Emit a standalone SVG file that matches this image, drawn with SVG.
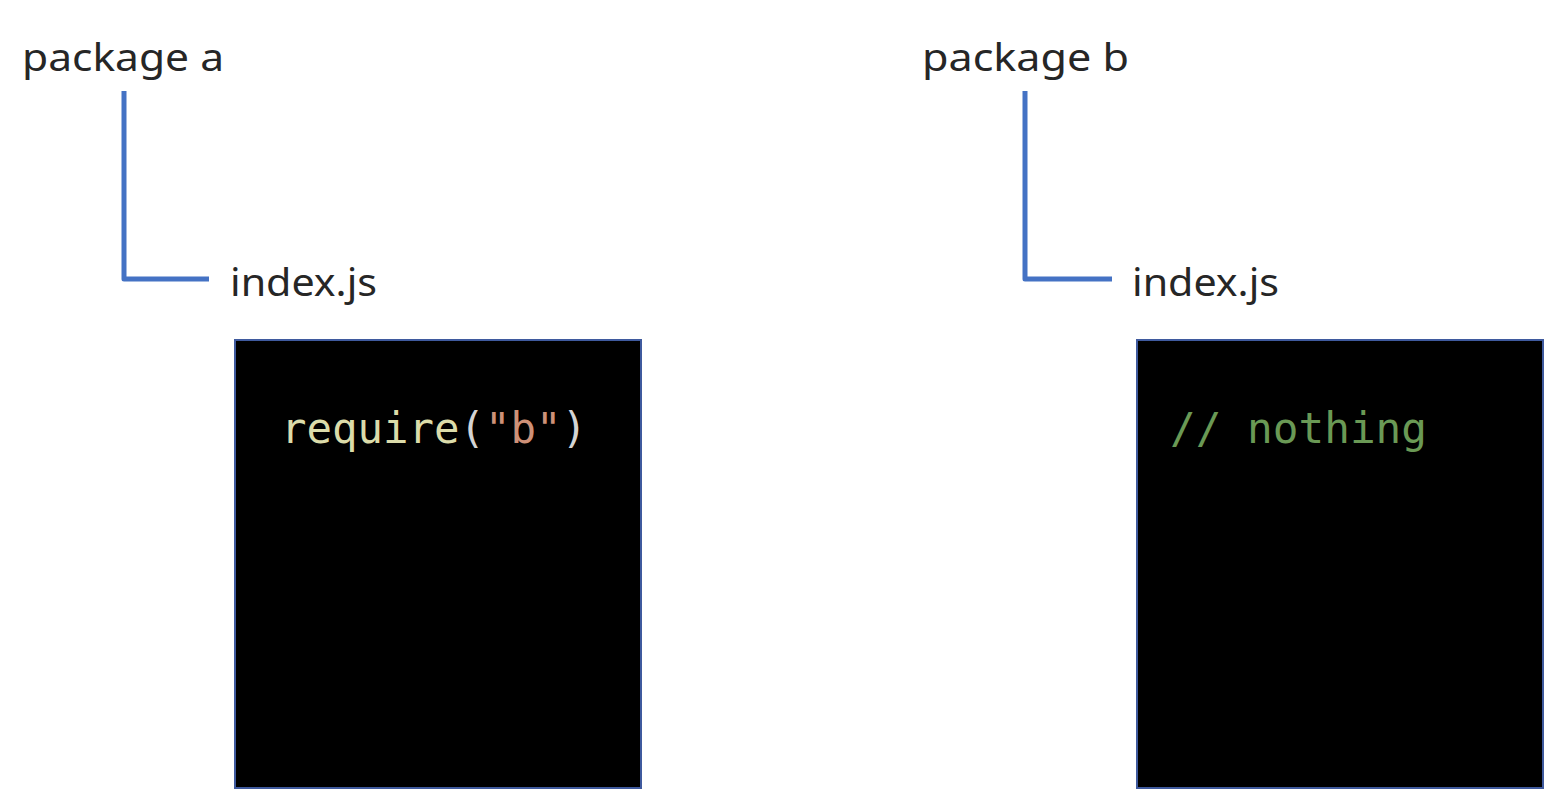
<svg xmlns="http://www.w3.org/2000/svg" width="1558" height="810" viewBox="0 0 1558 810">
<style>
.lbl{font-family:"Noto Sans","Open Sans","Liberation Sans",sans-serif;font-size:38px;fill:#262626}
.code{font-family:"DejaVu Sans Mono","Liberation Mono",monospace;font-size:42px}
.box{fill:#000000;stroke:#3f5a9e;stroke-width:2}
.conn{fill:none;stroke:#4472C4;stroke-width:5;stroke-linejoin:round}
</style>
<rect width="1558" height="810" fill="#ffffff"/>
<g id="connectors">
<path class="conn" d="M124,91 V279 H209"/>
<path class="conn" d="M1025,91 V279 H1112"/>
</g>
<g id="pkg-a"><text class="lbl" x="22" y="71" textLength="202" lengthAdjust="spacingAndGlyphs">package a</text></g>
<g id="index-a"><text class="lbl" x="230" y="296" textLength="147" lengthAdjust="spacingAndGlyphs">index.js</text></g>
<g id="code-a">
<rect class="box" x="235" y="340" width="406" height="448"/>
<text class="code" x="281" y="443" textLength="306" lengthAdjust="spacingAndGlyphs"><tspan fill="#DCDCAA">require</tspan><tspan fill="#D4D4D4">(</tspan><tspan fill="#CE9178">"b"</tspan><tspan fill="#D4D4D4">)</tspan></text>
</g>
<g id="pkg-b"><text class="lbl" x="922" y="71" textLength="207" lengthAdjust="spacingAndGlyphs">package b</text></g>
<g id="index-b"><text class="lbl" x="1132" y="296" textLength="147" lengthAdjust="spacingAndGlyphs">index.js</text></g>
<g id="code-b">
<rect class="box" x="1137" y="340" width="406" height="448"/>
<text class="code" x="1170" y="443" textLength="257" lengthAdjust="spacingAndGlyphs" fill="#6A9955">// nothing</text>
</g>
</svg>
